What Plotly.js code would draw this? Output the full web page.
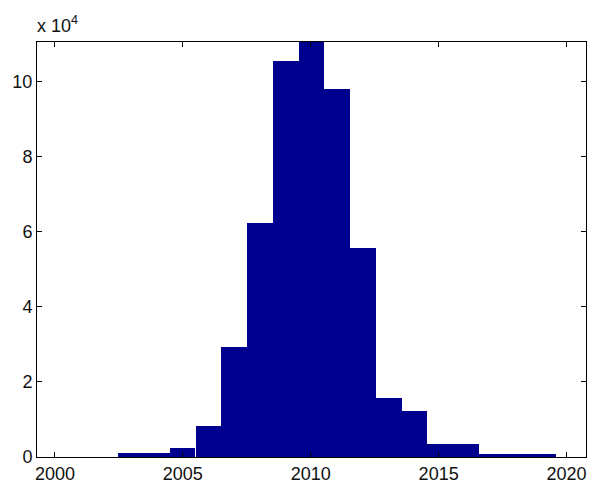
<!DOCTYPE html>
<html>
<head>
<meta charset="utf-8">
<script src="https://cdn.plot.ly/plotly-3.0.1.min.js"></script>
<style>html,body{margin:0;padding:0;background:#fff;}#chart{width:589px;height:484px;}</style>
</head>
<body>
<div id="chart"></div>
<script>
// Histogram bin centres (years) and counts
var binCenters = [2002.97, 2003.98, 2004.99, 2006.00, 2007.00, 2008.01, 2009.02, 2010.03, 2011.03, 2012.04, 2013.05, 2014.06, 2015.06, 2016.07, 2017.08, 2018.09, 2019.09];
var counts = [1000, 1000, 2300, 8300, 29200, 62300, 105500, 110600, 98000, 55800, 15800, 12200, 3500, 3500, 900, 900, 900];
var binWidth = 1.007;
var xTickVals = [2000, 2005, 2010, 2015, 2020];
var yTickVals = [0, 20000, 40000, 60000, 80000, 100000];
var yTickText = ['0', '2', '4', '6', '8', '10'];

var font = {family: 'Liberation Sans, Arial, sans-serif', size: 18, color: '#111'};

var trace = {
  type: 'bar',
  x: binCenters,
  y: counts,
  width: binCenters.map(function(){return binWidth;}),
  marker: {color: '#00008f', line: {width: 0}},
  hoverinfo: 'x+y'
};

var layout = {
  width: 589, height: 484,
  margin: {l: 37, r: 3, t: 42, b: 27},
  paper_bgcolor: '#fff', plot_bgcolor: '#fff',
  showlegend: false,
  bargap: 0,
  font: font,
  xaxis: {
    range: [1999.30, 2020.76],
    tickvals: xTickVals,
    ticks: 'inside', ticklen: 5, tickcolor: '#000', tickwidth: 1,
    showline: true, linecolor: '#000', linewidth: 1, mirror: 'ticks',
    showgrid: false, zeroline: false,
    tickfont: font
  },
  yaxis: {
    range: [0, 110600],
    tickvals: yTickVals, ticktext: yTickText,
    ticks: 'inside', ticklen: 5, tickcolor: '#000', tickwidth: 1,
    showline: true, linecolor: '#000', linewidth: 1, mirror: 'ticks',
    showgrid: false, zeroline: false,
    tickfont: font
  },
  annotations: [{
    xref: 'paper', yref: 'paper', x: -0.004, y: 1.01,
    xanchor: 'left', yanchor: 'bottom', showarrow: false,
    text: 'x 10<sup>4</sup>', font: font
  }]
};

Plotly.newPlot('chart', [trace], layout, {displayModeBar: false, staticPlot: true});
</script>
</body>
</html>
